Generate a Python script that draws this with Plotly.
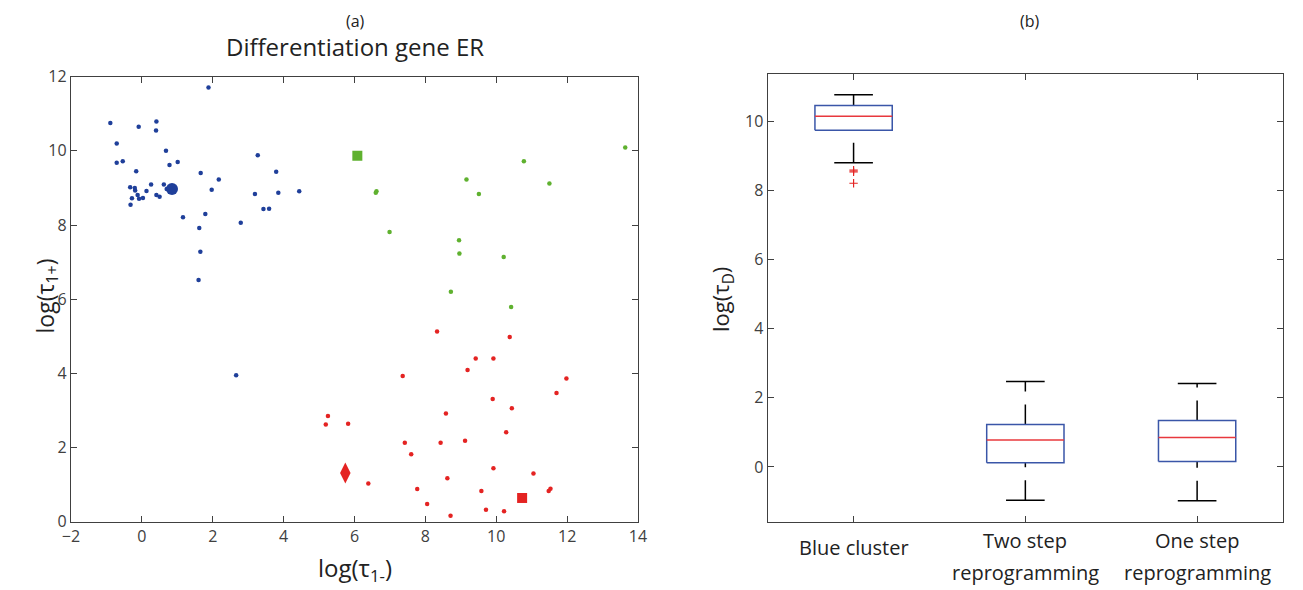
import plotly.graph_objects as go

# ---------------- data: panel (a) ----------------
blue_x = [1.88, -0.89, -0.09, 0.41, 0.40, -0.71, -0.71, -0.54, 0.68, 0.78, 1.01, -0.16, 1.66, 2.17,
          3.27, 3.79, 0.26, 0.62, -0.33, -0.20, -0.19, 0.13, 0.70, 1.97, -0.12, -0.28, -0.08, 0.03,
          -0.32, 0.41, 0.50, 3.19, 3.85, 4.44, 3.43, 3.59, 1.16, 1.79, 2.79, 1.62, 1.65, 1.60, 2.66]
blue_y = [11.71, 10.75, 10.65, 10.79, 10.55, 10.20, 9.68, 9.72, 10.00, 9.62, 9.70, 9.45, 9.40, 9.23,
          9.88, 9.44, 9.09, 9.09, 9.02, 9.00, 8.93, 8.92, 8.97, 8.95, 8.81, 8.72, 8.71, 8.73,
          8.55, 8.81, 8.76, 8.84, 8.87, 8.91, 8.43, 8.44, 8.21, 8.30, 8.06, 7.92, 7.28, 6.52, 3.95]

green_x = [13.64, 10.78, 9.16, 11.50, 9.51, 6.62, 6.60, 6.99, 8.95, 8.96, 10.21, 8.72, 10.42]
green_y = [10.09, 9.72, 9.23, 9.12, 8.84, 8.91, 8.87, 7.81, 7.59, 7.23, 7.14, 6.20, 5.79]

red_x = [8.33, 10.38, 9.42, 9.92, 9.19, 7.36, 11.98, 11.70, 9.90, 10.44, 5.25, 5.19, 5.82, 8.58,
         10.28, 7.42, 8.43, 9.12, 7.60, 9.92, 11.05, 6.39, 8.62, 7.77, 9.58, 11.48, 11.53, 8.05,
         9.71, 10.22, 8.71]
red_y = [5.13, 4.98, 4.40, 4.40, 4.09, 3.93, 3.86, 3.47, 3.31, 3.06, 2.85, 2.62, 2.64, 2.92,
         2.41, 2.13, 2.13, 2.18, 1.82, 1.44, 1.30, 1.03, 1.17, 0.88, 0.83, 0.83, 0.89, 0.48,
         0.32, 0.28, 0.16]

blue_center = (0.85, 8.97)
green_square = (6.08, 9.87)
red_square = (10.73, 0.64)
red_diamond = (5.74, 1.31)

# ---------------- data: panel (b) ----------------
categories = ["Blue cluster", "Two step<br>reprogramming", "One step<br>reprogramming"]
q1 = [9.73, 0.12, 0.16]
median = [10.14, 0.78, 0.85]
q3 = [10.45, 1.23, 1.34]
whisk_lo = [8.79, -0.96, -0.98]
whisk_hi = [10.76, 2.47, 2.41]
outlier_cat = [1, 1, 1]
outlier_y = [8.58, 8.53, 8.20]

BLUE = "#1f3f9a"
GREEN = "#5fb12f"
RED = "#e42322"
AX = "#404040"
TXT = "#222222"
FONT = "Open Sans"
W, H = 1303, 590
OX, OY = 8, 8   # page offset of the figure inside the browser window


def px(x):
    return (x - OX) / W


def py(y):
    return 1 - (y - OY) / H


fig = go.Figure()

# ---- panel (a) scatter ----
fig.add_trace(go.Scatter(x=blue_x, y=blue_y, mode="markers",
                         marker=dict(color=BLUE, size=4.5), xaxis="x", yaxis="y"))
fig.add_trace(go.Scatter(x=green_x, y=green_y, mode="markers",
                         marker=dict(color=GREEN, size=4.5), xaxis="x", yaxis="y"))
fig.add_trace(go.Scatter(x=red_x, y=red_y, mode="markers",
                         marker=dict(color=RED, size=4.5), xaxis="x", yaxis="y"))
fig.add_trace(go.Scatter(x=[blue_center[0]], y=[blue_center[1]], mode="markers",
                         marker=dict(color=BLUE, size=12, symbol="circle"), xaxis="x", yaxis="y"))
fig.add_trace(go.Scatter(x=[green_square[0]], y=[green_square[1]], mode="markers",
                         marker=dict(color=GREEN, size=10, symbol="square"), xaxis="x", yaxis="y"))
fig.add_trace(go.Scatter(x=[red_square[0]], y=[red_square[1]], mode="markers",
                         marker=dict(color=RED, size=10, symbol="square"), xaxis="x", yaxis="y"))
fig.add_trace(go.Scatter(x=[red_diamond[0]], y=[red_diamond[1]], mode="markers",
                         marker=dict(color=RED, size=15, symbol="diamond-tall"), xaxis="x", yaxis="y"))

# ---- panel (b) box plots built from stats ----
hw = 0.225   # half box width (category units)
cw = 0.1125  # half cap width
for i in range(len(categories)):
    c = i + 1
    fig.add_trace(go.Scatter(x=[c, c], y=[whisk_lo[i], q1[i]], mode="lines",
                             line=dict(color="black", width=1.5, dash="20px,13px"),
                             xaxis="x2", yaxis="y2"))
    fig.add_trace(go.Scatter(x=[c, c], y=[q3[i], whisk_hi[i]], mode="lines",
                             line=dict(color="black", width=1.5, dash="20px,13px"),
                             xaxis="x2", yaxis="y2"))
    for wv in (whisk_lo[i], whisk_hi[i]):
        fig.add_trace(go.Scatter(x=[c - cw, c + cw], y=[wv, wv], mode="lines",
                                 line=dict(color="black", width=1.5),
                                 xaxis="x2", yaxis="y2"))
    fig.add_trace(go.Scatter(x=[c - hw, c + hw, c + hw, c - hw, c - hw],
                             y=[q1[i], q1[i], q3[i], q3[i], q1[i]], mode="lines",
                             line=dict(color="#3a56a8", width=1.5),
                             xaxis="x2", yaxis="y2"))
    fig.add_trace(go.Scatter(x=[c - hw, c + hw], y=[median[i], median[i]], mode="lines",
                             line=dict(color="#e8383d", width=1.5),
                             xaxis="x2", yaxis="y2"))

fig.add_trace(go.Scatter(x=outlier_cat, y=outlier_y, mode="markers",
                         marker=dict(symbol="cross-thin", size=6, color=RED,
                                     line=dict(color=RED, width=1.2)),
                         xaxis="x2", yaxis="y2"))

axis_common = dict(showline=True, linecolor=AX, linewidth=1.3, mirror="allticks",
                   ticks="inside", ticklen=6, tickcolor=AX, tickwidth=1.2,
                   showgrid=False, zeroline=False, automargin=False,
                   tickfont=dict(family=FONT, size=16, color=AX))

fig.update_layout(
    width=W, height=H,
    margin=dict(l=0, r=0, t=0, b=0, pad=0, autoexpand=False),
    paper_bgcolor="white", plot_bgcolor="white",
    showlegend=False,
    font=dict(family=FONT, color=TXT),
    xaxis=dict(domain=[px(71), px(638)], range=[-2, 14], tickvals=list(range(-2, 15, 2)),
               anchor="y", **axis_common),
    yaxis=dict(domain=[py(521.7), py(76.7)], range=[0, 12], tickvals=list(range(0, 13, 2)),
               anchor="x", **axis_common),
    xaxis2=dict(domain=[px(767.7), px(1283)], range=[0.5, 3.5], tickvals=[1, 2, 3],
                showticklabels=False, anchor="y2", **axis_common),
    yaxis2=dict(domain=[py(522.3), py(74.3)], range=[-1.6, 11.35],
                tickvals=list(range(0, 11, 2)), anchor="x2", **axis_common),
)

# category labels for panel (b), one annotation per text line
for i, lab in enumerate(categories):
    lines = lab.split("<br>")
    centers = [547] if len(lines) == 1 else [540, 572]
    for ln, cy in zip(lines, centers):
        fig.add_annotation(x=i + 1, xref="x2", y=py(cy), yref="paper",
                           yanchor="middle", text=ln, showarrow=False,
                           font=dict(family=FONT, size=20, color=TXT))

annots = [
    dict(x=355, y=21, text="(a)", size=16),
    dict(x=1030, y=21, text="(b)", size=16),
    dict(x=355, y=47, text="Differentiation gene ER", size=24),
    dict(x=355, y=569, text="log(τ<sub>1-</sub>)", size=24),
]
for a in annots:
    fig.add_annotation(x=px(a["x"]), y=py(a["y"]), xref="paper", yref="paper", text=a["text"],
                       showarrow=False, xanchor="center", yanchor="middle",
                       font=dict(family=FONT, size=a["size"], color=TXT))

fig.add_annotation(x=px(26), y=py(296), xref="paper", yref="paper",
                   text="log(τ<sub>1+</sub>)", textangle=-90, showarrow=False,
                   font=dict(family=FONT, size=23, color=TXT))
fig.add_annotation(x=px(722), y=py(299), xref="paper", yref="paper",
                   text="log(τ<sub>D</sub>)", textangle=-90, showarrow=False,
                   font=dict(family=FONT, size=22, color=TXT))

fig.write_html("out.html")
